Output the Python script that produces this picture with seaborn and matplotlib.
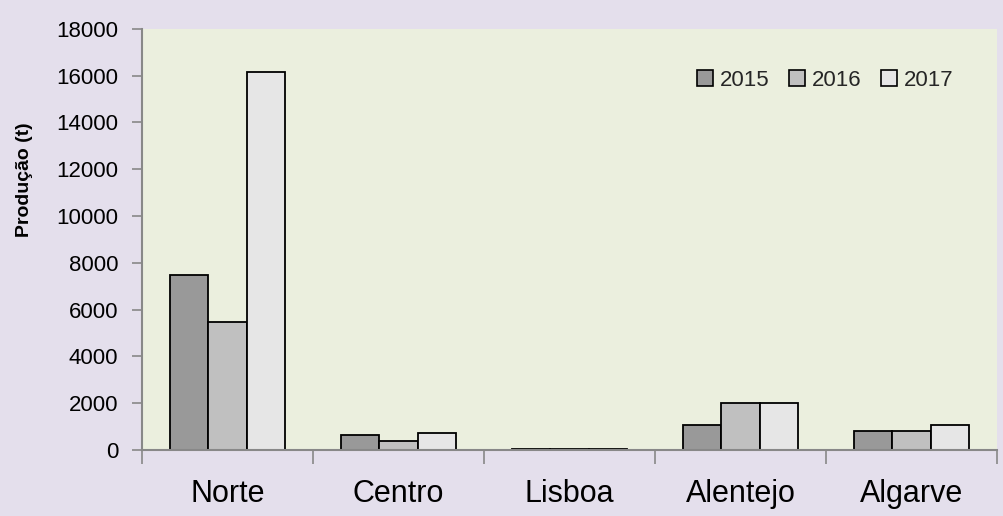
import matplotlib
matplotlib.use("Agg")
import matplotlib.pyplot as plt
import seaborn as sns
import pandas as pd
from matplotlib.patches import Patch

regions = ["Norte", "Centro", "Lisboa", "Alentejo", "Algarve"]
years = ["2015", "2016", "2017"]
v2015 = [7500, 650, 50, 1050, 800]
v2016 = [5450, 400, 50, 2000, 800]
v2017 = [16150, 720, 50, 2000, 1050]
yticks = [0, 2000, 4000, 6000, 8000, 10000, 12000, 14000, 16000, 18000]

colors = ["#999999", "#c0c0c0", "#e6e6e6"]
FIG_BG = "#E4DFEC"
AX_BG = "#EBEFDE"
FONT = ["Liberation Sans", "DejaVu Sans"]

rows = []
for y, vals in zip(years, [v2015, v2016, v2017]):
    for r, v in zip(regions, vals):
        rows.append({"Região": r, "Ano": y, "Produção": v})
df = pd.DataFrame(rows)

sns.set_theme(style="white")
plt.rcParams["font.family"] = FONT

fig = plt.figure(figsize=(10.04, 5.16), dpi=100, facecolor=FIG_BG)
ax = fig.add_axes([0.1414, 0.128, 0.8516, 0.816])
ax.set_facecolor(AX_BG)

sns.barplot(data=df, x="Região", y="Produção", hue="Ano", order=regions,
            hue_order=years, palette=colors, width=0.67, edgecolor="black",
            linewidth=1.3, saturation=1, ax=ax, legend=False)

ax.set_ylim(0, 18000)
ax.set_xlim(-0.5, len(regions) - 0.5)
ax.set_yticks(yticks)
ax.set_yticklabels([str(t) for t in yticks], fontsize=16, color="black")
ax.tick_params(axis="y", left=True, length=7, width=1.2, color="#888888", pad=10)
ax.set_xticks(range(len(regions)))
ax.set_xticklabels(regions, fontsize=22, color="black")
ax.set_xticks([i - 0.5 for i in range(len(regions) + 1)], minor=True)
ax.tick_params(axis="x", which="major", length=0, pad=21)
ax.tick_params(axis="x", which="minor", bottom=True, length=10, width=1.2, color="#888888")

for s in ["top", "right"]:
    ax.spines[s].set_visible(False)
for s in ["left", "bottom"]:
    ax.spines[s].set_color("#888888")
    ax.spines[s].set_linewidth(1.5)

ax.set_xlabel("")
ax.set_ylabel("Produção (t)", fontsize=14, fontweight="bold", color="black")
ax.yaxis.set_label_coords(-0.128, 0.642)

handles = [Patch(facecolor=c, edgecolor="black", linewidth=1.2) for c in colors]
ax.legend(handles, years, loc="upper right", bbox_to_anchor=(0.972, 0.95),
          ncol=3, frameon=False, fontsize=16, handlelength=0.7, handleheight=0.7,
          handletextpad=0.3, columnspacing=0.9)

fig.savefig("out.png", dpi=100, facecolor=FIG_BG)
